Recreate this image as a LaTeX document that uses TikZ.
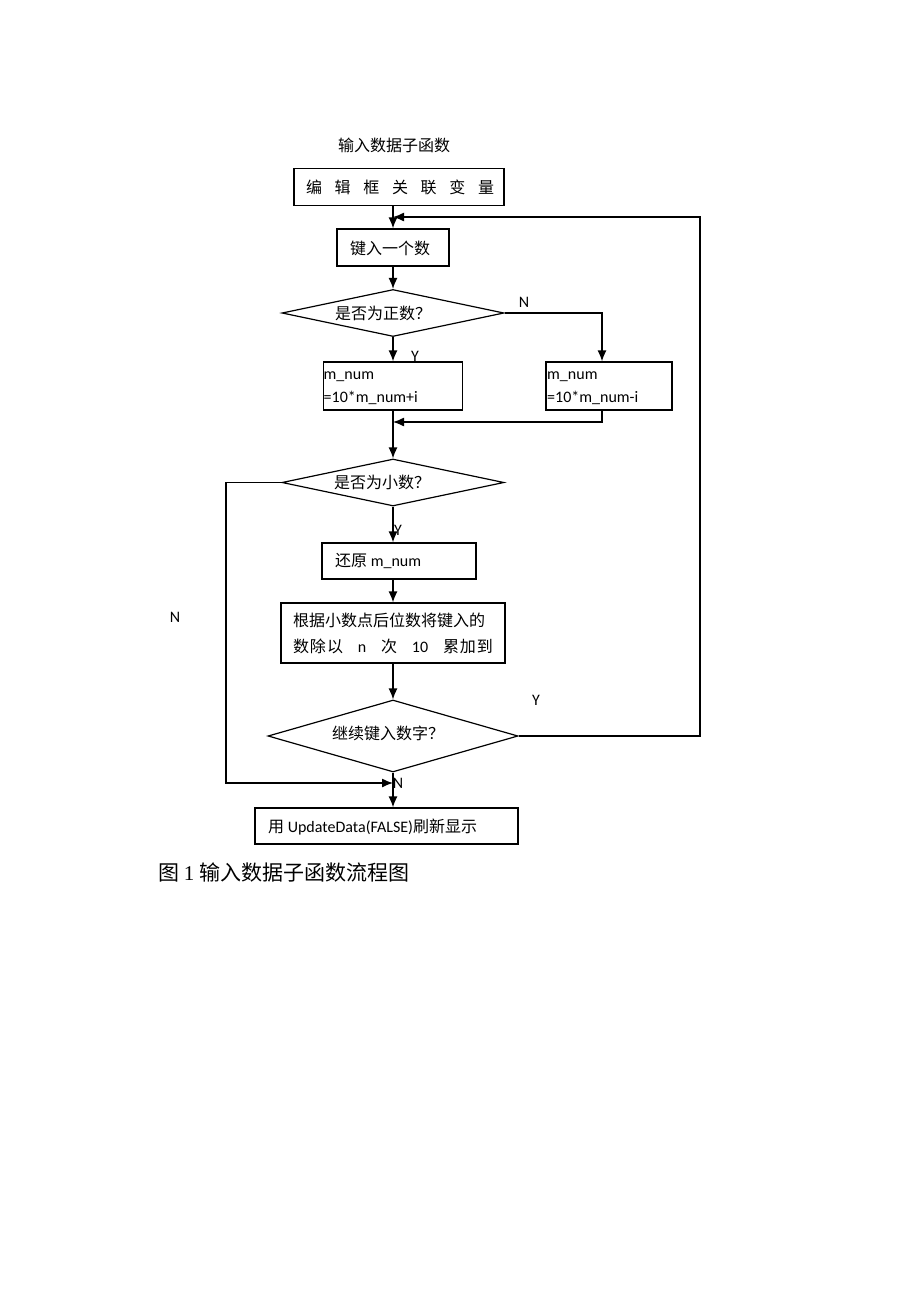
\documentclass[tikz,border=0pt]{standalone}
\usepackage{fontspec}
\setmainfont{Carlito}
\newfontfamily\cjk{Noto Sans CJK SC}
\newfontfamily\serifrm{Liberation Serif}
\usetikzlibrary{arrows.meta,shapes.geometric}
\newcommand{\zh}[1]{{\cjk #1}}
\begin{document}
\begin{tikzpicture}[x=1pt,y=-1pt,
  box/.style={draw, line width=1.3pt, inner sep=0pt, rectangle},
  dec/.style={draw, line width=1.2pt, diamond, inner sep=0pt},
  arr/.style={line width=1.3pt, -{Latex[length=11pt,width=9pt]}},
  txt/.style={inner sep=0pt, font=\fontsize{16}{23}\selectfont},
  lab/.style={inner sep=0pt, font=\fontsize{16}{16}\selectfont}
]
\useasboundingbox[fill=white] (0,0) rectangle (920,1302);
\coordinate (cx) at (393,0);
\coordinate (rx) at (602,0);

% title
\node[txt] (title) at (394,145) {\zh{输入数据子函数}};

% box 1
\node[box, minimum width=210pt, minimum height=37pt] (b1) at (399,187) {};
\node[txt] (t1) at (400,187) {\hbox to 188pt{\cjk 编\hfill 辑\hfill 框\hfill 关\hfill 联\hfill 变\hfill 量}};

% box 2
\node[box, minimum width=112pt, minimum height=37pt] (b2) at (393,247.5) {};
\node[txt] (t2) at (390,248) {\zh{键入一个数}};

% decision 1
\node[dec, minimum width=222pt, minimum height=47pt] (d1) at (393,313) {};
\node[txt] (td1) at (383,313) {\zh{是否为正数？}};

% box 3 and 4
\node[box, minimum width=139pt, minimum height=48pt] (b3) at (393,386) {};
\node[txt, anchor=west, align=left] (t3) at (323.5,388) {m\_num\\=10*m\_num+i};
\node[box, minimum width=126pt, minimum height=48pt] (b4) at (609,386) {};
\node[txt, anchor=west, align=left] (t4) at (547,388) {m\_num\\=10*m\_num-i};

% decision 2
\node[dec, minimum width=222pt, minimum height=47pt] (d2) at (393,482.5) {};
\node[txt] (td2) at (382,482) {\zh{是否为小数？}};

% box 5
\node[box, minimum width=154pt, minimum height=36pt] (b5) at (399,561) {};
\node[txt, anchor=west] (t5) at (335,561) {\zh{还原} m\_num};

% box 6
\node[box, minimum width=224pt, minimum height=60pt] (b6) at (393,633) {};
\node[txt, align=left, font=\fontsize{16}{26}\selectfont] (t6) at (393,633)
  {\hbox to 200pt{\cjk 根据小数点后位数将键入的}\\
   \hbox to 200pt{\cjk 数\hskip1pt 除\hskip1pt 以\hfill \rmfamily n\hfill \cjk 次\hfill \rmfamily 10\hfill \cjk 累\hskip1pt 加\hskip1pt 到}};

% decision 3
\node[dec, minimum width=250pt, minimum height=72pt] (d3) at (393,736) {};
\node[txt] (td3) at (388,733) {\zh{继续键入数字？}};

% box 7
\node[box, minimum width=263pt, minimum height=36pt] (b7) at (386.5,826) {};
\node[txt, anchor=west] (t7) at (268,827) {\zh{用} UpdateData(FALSE)\zh{刷新显示}};

% caption
\node[inner sep=0pt, anchor=west, font=\fontsize{21}{21}\selectfont] (cap) at (158,873)
  {\zh{图} \serifrm 1 \zh{输入数据子函数流程图}};

% helper coordinates
\coordinate (m0) at (393,217);
\coordinate (m1) at (393,422);
\coordinate (m2) at (393,783);
\coordinate (rloop) at (700,217);
\coordinate (lloop) at (226,783);

% connectors
\draw[arr] (b1.south -| cx) -- (b2.north -| cx);
\draw[arr] (b2.south -| cx) -- (d1.north);
\draw[arr] (d1.south) -- (b3.north);
\draw[arr] (d1.east) -| (b4.north -| rx);
\draw[arr] (b4.south -| rx) |- (m1);
\draw[arr] (b3.south) -- (d2.north);
\draw[arr] (d2.south) -- (b5.north -| cx);
\draw[arr] (b5.south -| cx) -- (b6.north);
\draw[arr] (b6.south) -- (d3.north);
\draw[arr] (d3.east) -| (rloop) -- (m0);
\draw[arr] (d2.west) -| (lloop) -- (m2);
\draw[arr] (d3.south) -- (b7.north -| cx);

% labels
\node[lab] (lN1) at (524,302) {N};
\node[lab] (lY1) at (415,356) {Y};
\node[lab] (lY2) at (398,530) {Y};
\node[lab] (lN2) at (175,617) {N};
\node[lab] (lY3) at (536,700) {Y};
\node[lab] (lN3) at (398,783) {N};
\end{tikzpicture}
\end{document}
